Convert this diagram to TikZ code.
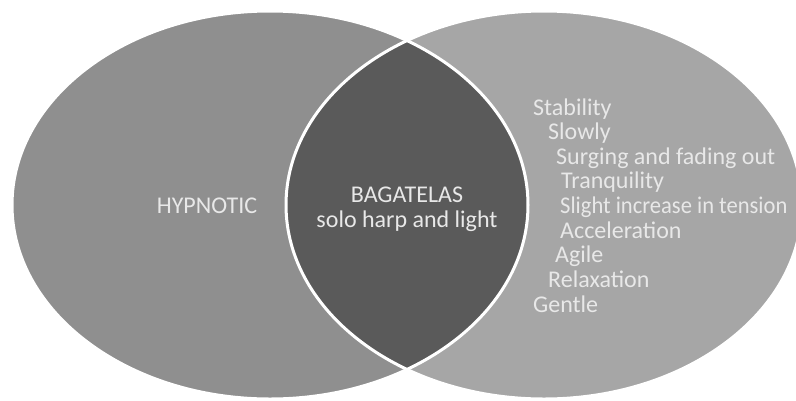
\documentclass[tikz,border=0pt]{standalone}
\usepackage{fontspec}
\setmainfont{Carlito}
\definecolor{leftgray}{HTML}{8F8F8F}
\definecolor{rightgray}{HTML}{A6A6A6}
\definecolor{lensgray}{HTML}{5A5A5A}
\definecolor{labeltext}{HTML}{E8E8E8}
\begin{document}
\begin{tikzpicture}[x=1pt,y=-1pt,
  label/.style={text=labeltext,font=\fontsize{24}{25}\selectfont,inner sep=0pt},
  item/.style={label,anchor=base west},
  rim/.style={draw=white,line width=3pt}]
\useasboundingbox (0,0) rectangle (796,400);
\clip (0,0) rectangle (796,400);
% the two sets
\fill[leftgray]  (270,205) ellipse [x radius=258, y radius=194];
\fill[rightgray] (544,205) ellipse [x radius=258, y radius=194];
% their overlap
\begin{scope}
  \clip (270,205) ellipse [x radius=258, y radius=194];
  \fill[lensgray] (544,205) ellipse [x radius=258, y radius=194];
\end{scope}
\draw[rim] (270,205) ellipse [x radius=258, y radius=194];
\draw[rim] (544,205) ellipse [x radius=258, y radius=194];
% labels
\node[label,anchor=base] (hyp) at (207,213) {HYPNOTIC};
\node[label,anchor=base] (bag) at (407,202) {BAGATELAS};
\node[label,anchor=base] (solo) at (407,227) {solo harp and light};
\node[item] (i1) at (533,115) {Stability};
\node[item] (i2) at (548,139.6) {Slowly};
\node[item] (i3) at (556,164.2) {Surging and fading out};
\node[item] (i4) at (561,188.9) {Tranquility};
\node[item] (i5) at (560,213.5) {\scalebox{0.94}[1]{Slight increase in tension}};
\node[item] (i6) at (560,238) {Acceleration};
\node[item] (i7) at (555,262.7) {Agile};
\node[item] (i8) at (548,287.3) {Relaxation};
\node[item] (i9) at (533,312) {Gentle};
\end{tikzpicture}
\end{document}
